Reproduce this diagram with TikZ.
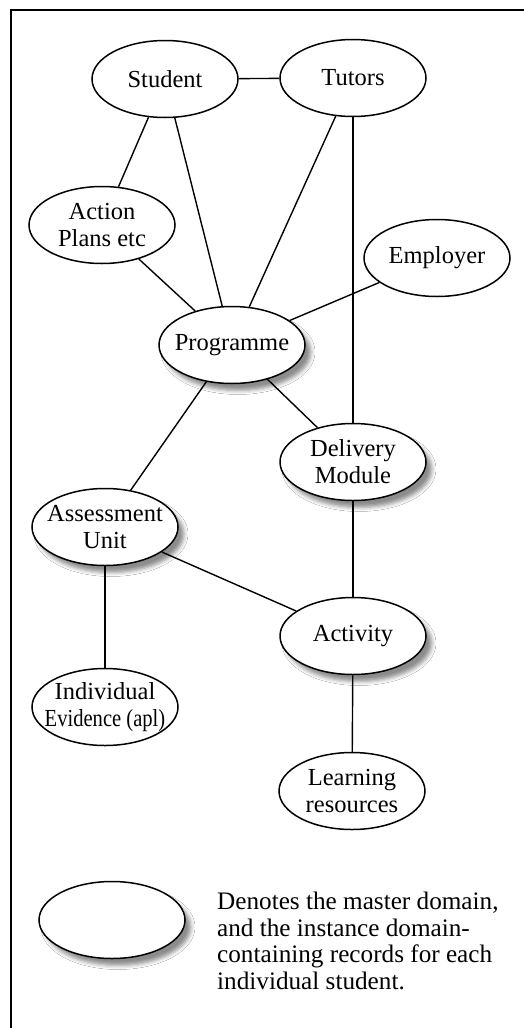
\documentclass[tikz,border=0pt]{standalone}
\usepackage{fontspec}
\setmainfont{Liberation Serif}
\usetikzlibrary{shapes.geometric,shadows.blur}
\begin{document}
\begin{tikzpicture}[x=1pt,y=-1pt,
  entity/.style={ellipse,draw,line width=1.5pt,fill=white,
    minimum width=146pt,minimum height=77pt,inner sep=0pt},
  masternode/.style={entity,blur shadow={shadow xshift=6pt,shadow yshift=-7pt,
    shadow blur radius=4pt,shadow opacity=45}},
  caption/.style={align=center,font=\fontsize{24.5}{27}\selectfont,inner sep=0pt},
  link/.style={line width=1.4pt}]
\useasboundingbox (0,0) rectangle (524,1028);
\fill[white] (0,0) rectangle (524,1028);
% frame
\draw[line width=1.5pt] (11,1030) -- (11,10) -- (526,10);

% entities
\node[entity] (student) at (165,79) {};
\node[caption] at (student.center) {Student};
\node[entity] (tutors) at (353,78) {};
\node[caption] at (tutors.center) {Tutors};
\node[entity] (action) at (102,225) {};
\node[caption] at (action.center) {Action\\Plans etc};
\node[entity] (employer) at (437,258) {};
\node[caption] at (employer.center) {Employer};
\node[masternode] (programme) at (232,345) {};
\node[caption] at (programme.center) {Programme};
\node[masternode] (delivery) at (353,462) {};
\node[caption] at (delivery.center) {Delivery\\Module};
\node[masternode] (assess) at (105,527) {};
\node[caption] at (assess.center) {Assessment\\Unit};
\node[masternode] (activity) at (353,636) {};
\node[caption] at (activity.center) {Activity};
\node[entity] (evidence) at (105,707) {};
\node[caption] at (evidence.center) {Individual\\\scalebox{0.84}[1]{Evidence (apl)}};
\node[entity] (learning) at (352,791) {};
\node[caption] at (learning.center) {Learning\\resources};

% relations
\draw[link] (student) -- (tutors);
\draw[link] (student) -- (action);
\draw[link] (student) -- (programme);
\draw[link] (tutors) -- (programme);
\draw[link] (tutors) -- (delivery);
\draw[link] (action) -- (programme);
\draw[link] (employer) -- (programme);
\draw[link] (programme) -- (delivery);
\draw[link] (programme) -- (assess);
\draw[link] (delivery) -- (activity);
\draw[link] (assess) -- (activity);
\draw[link] (assess) -- (evidence);
\draw[link] (activity) -- (learning);

% key
\node[masternode] (key) at (112,920) {};
\node[caption,align=left,anchor=north west,font=\fontsize{25.2}{26.5}\selectfont]
  (keytext) at (217,892)
  {Denotes the master domain,\\and the instance domain-\\containing records for each\\individual student.};
\end{tikzpicture}
\end{document}
